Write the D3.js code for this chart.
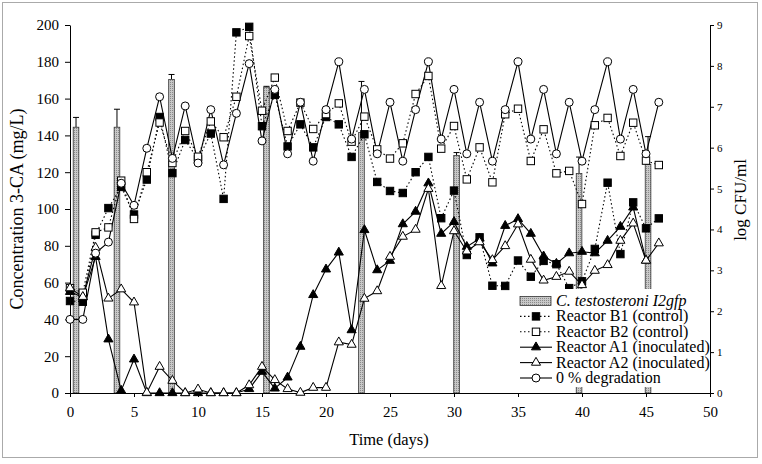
<!DOCTYPE html>
<html><head><meta charset="utf-8">
<script src="https://cdn.jsdelivr.net/npm/d3@7"></script>
<style>body{margin:0;background:#fff}svg{display:block}</style>
</head><body>
<svg id="c" width="762" height="464"></svg>
<script>
const days = d3.range(0, 47);
const degradation0 = [40,40,76,82,114,102,133,161,127.5,156,125,154,124,152,
  179,137,165,130,158,126,154,180,138,165,130,158,126,154,180,138,165,130,158,126,154,
  180,138,165,130,158,126,154,180,138,165,130,158];
const reactorB1 = [50,49.6,86,100.5,112,97,116,150,119.5,137.5,127,141,105.5,196,199,145,162,134,146,133.5,150,146,128.3,140.6,114.7,109.8,108.7,120,128.3,95,110,75,84.6,58.3,58.2,72,63.2,71.8,70,57,60.7,78.3,114.3,75.5,103.6,89.5,94.9];
const reactorB2 = [57,54.5,87.3,90,115.4,94.6,120,147,125,142.4,128.4,147.6,139,161,194,153.4,171.4,142.4,157.8,143.5,151.6,157.4,136.6,150.2,132.4,127.4,135.7,162.5,172.3,132.8,145.1,116.1,133.5,114.5,151.5,154.5,126.1,143.3,119.4,120.7,102.7,145.5,149.5,128.8,146.9,126.3,123.9];
const reactorA1 = [55,52,74,29.2,1.3,18.3,0,0,0,0,0,0,0,0,2.2,11.6,2.5,8.5,25.2,53.3,67.2,76.4,34.2,88.6,66.8,71.9,91.8,98.6,114,86.6,93,79.5,84,70.5,90.9,94.6,86.6,74.3,70.3,76,76.8,76,82.8,90.4,100.9,72];
const reactorA2 = [57,52.3,79,51.4,56.4,49.3,0.2,14.3,6.7,0,2,0,0,0,4.3,14.3,7.1,2.2,0.2,2.9,2.9,27.6,26.3,51.3,55.4,74.1,85,88.8,111,58.2,88,77,82,72.3,79.9,91.7,72.5,61.2,63.2,66,58.7,66.5,69.6,82.8,92.2,72,81.4];
const barDays = [0.47,3.67,7.93,15.35,22.77,30.2,39.77,45.16];
const barLogCFU = [6.5,6.5,7.67,7.48,6.37,5.81,5.37,5.59];
const barErrTop = [6.74,6.94,7.79,7.5,7.62,5.88,5.77,6.27];
const xTicks = [0,5,10,15,20,25,30,35,40,45,50];
const yTicks = [0,20,40,60,80,100,120,140,160,180,200];
const y2Ticks = [0,1,2,3,4,5,6,7,8,9];
const legendLabels = ["C. testosteroni I2gfp","Reactor B1 (control)","Reactor B2 (control)","Reactor A1 (inoculated)","Reactor A2 (inoculated)","0 % degradation"];

const svg = d3.select("#c");
const font = "'Liberation Serif','Times New Roman',serif";
const L = 70, R = 710, T = 25, B = 393;
const x = d3.scaleLinear().domain([0,50]).range([L,R]);
const y = d3.scaleLinear().domain([0,200]).range([B,T]);
const y2 = d3.scaleLinear().domain([0,9]).range([B,T]);

svg.append("rect").attr("x",2.5).attr("y",2.5).attr("width",755).attr("height",455)
  .attr("fill","none").attr("stroke","#aaa");

const defs = svg.append("defs");
const pat = defs.append("pattern").attr("id","stip").attr("width",2).attr("height",2).attr("patternUnits","userSpaceOnUse");
pat.append("rect").attr("width",2).attr("height",2).attr("fill","#c8c8c8");
pat.append("rect").attr("width",1).attr("height",1).attr("fill","#8a8a8a");

const bw = x(0.22) - x(0);
const bars = svg.append("g");
barDays.forEach((d,i)=>{
  bars.append("line").attr("x1",x(d)).attr("x2",x(d)).attr("y1",y2(barLogCFU[i])).attr("y2",y2(barErrTop[i])).attr("stroke","#000").attr("stroke-width",1);
  bars.append("line").attr("x1",x(d)-3).attr("x2",x(d)+3).attr("y1",y2(barErrTop[i])).attr("y2",y2(barErrTop[i])).attr("stroke","#000").attr("stroke-width",1);
  bars.append("rect").attr("x",x(d)-bw).attr("width",2*bw).attr("y",y2(barLogCFU[i])).attr("height",B-y2(barLogCFU[i]))
    .attr("fill","url(#stip)").attr("stroke","#333").attr("stroke-width",0.8);
});

const ax = svg.append("g").attr("transform",`translate(0,${B})`).call(d3.axisBottom(x).tickValues(xTicks).tickSize(4).tickSizeOuter(0));
const ay = svg.append("g").attr("transform",`translate(${L},0)`).call(d3.axisLeft(y).tickValues(yTicks).tickSize(5).tickSizeOuter(0));
const ay2 = svg.append("g").attr("transform",`translate(${R},0)`).call(d3.axisRight(y2).tickValues(y2Ticks).tickSize(4).tickSizeOuter(0));
[ax,ay,ay2].forEach(a=>{a.selectAll("path,line").attr("stroke","#000"); a.selectAll("text").attr("font-family",font).attr("fill","#000");});
ax.selectAll("text").attr("font-size",15).attr("dy","1.1em");
ay.selectAll("text").attr("font-size",15).attr("dx","-0.2em");
ay2.selectAll("text").attr("font-size",11);

const series = [
  {v:reactorB1, dash:"1.5,2.5", m:"sq", fill:"#000"},
  {v:reactorB2, dash:"1.5,2.5", m:"sq", fill:"#fff"},
  {v:reactorA1, dash:null, m:"tri", fill:"#000"},
  {v:reactorA2, dash:null, m:"tri", fill:"#fff"},
  {v:degradation0, dash:null, m:"circ", fill:"#fff"}
];
const line = d3.line().x((d,i)=>x(days[i])).y(d=>y(d));
function marker(g, type, cx, cy, fill){
  if(type==="sq") g.append("rect").attr("x",cx-3.7).attr("y",cy-3.7).attr("width",7.4).attr("height",7.4).attr("fill",fill).attr("stroke","#000").attr("stroke-width",1);
  else if(type==="tri") g.append("path").attr("d",d3.symbol().type(d3.symbolTriangle).size(36)()).attr("transform",`translate(${cx},${cy})`).attr("fill",fill).attr("stroke","#000").attr("stroke-width",1);
  else g.append("circle").attr("cx",cx).attr("cy",cy).attr("r",4).attr("fill",fill).attr("stroke","#000").attr("stroke-width",1);
}
series.forEach(s=>{
  svg.append("path").datum(s.v).attr("d",line).attr("fill","none").attr("stroke","#000").attr("stroke-width",1.1)
    .attr("stroke-dasharray",s.dash);
});
series.forEach(s=>{
  const g = svg.append("g");
  s.v.forEach((v,i)=>marker(g,s.m,x(days[i]),y(v),s.fill));
});

const lg = svg.append("g");
lg.append("rect").attr("x",515).attr("y",289).attr("width",193).attr("height",98).attr("fill","#fff");
const ly0 = 301, lstep = 15.4;
legendLabels.forEach((t,i)=>{
  const yy = ly0 + i*lstep;
  if(i===0){
    lg.append("rect").attr("x",520).attr("y",yy-4.5).attr("width",31).attr("height",9).attr("fill","url(#stip)").attr("stroke","#333").attr("stroke-width",0.8);
  } else {
    const s = series[i-1];
    lg.append("line").attr("x1",520).attr("x2",552).attr("y1",yy).attr("y2",yy).attr("stroke","#000").attr("stroke-width",1.1).attr("stroke-dasharray",s.dash);
    marker(lg,s.m,536,yy,s.fill);
  }
  const tx = lg.append("text").attr("x",556).attr("y",yy+5).attr("font-family",font).attr("font-size",16).attr("fill","#000");
  if(i===0){ tx.attr("font-style","italic").text(t); } else tx.text(t);
});

svg.append("text").attr("x",389).attr("y",445).attr("text-anchor","middle").attr("font-family",font).attr("font-size",16.5).text("Time (days)");
svg.append("text").attr("transform",`translate(23,${209}) rotate(-90)`).attr("text-anchor","middle").attr("font-family",font).attr("font-size",18).text("Concentration 3-CA (mg/L)");
svg.append("text").attr("transform",`translate(746,${200}) rotate(-90)`).attr("text-anchor","middle").attr("font-family",font).attr("font-size",17).text("log CFU/ml");
</script>
</body></html>
